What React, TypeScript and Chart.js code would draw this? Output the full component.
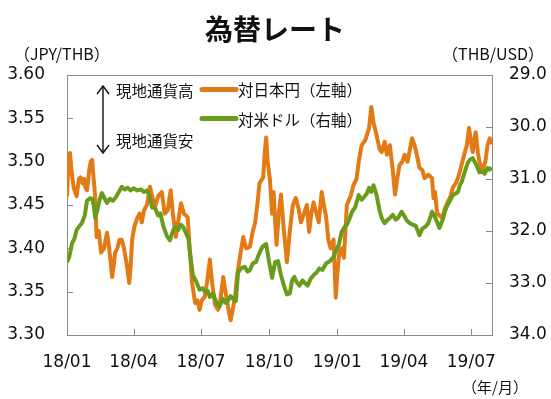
import React, { useEffect, useRef } from "react";
import { Chart, registerables } from "chart.js";

Chart.register(...registerables);

// ---- data ----
const xTickDays = [0, 90, 181, 273, 365, 455, 546];
const xTickLabels = ["18/01", "18/04", "18/07", "18/10", "19/01", "19/04", "19/07"];

// JPY/THB (left axis), day offset from 2018-01-01
const jpyDays = [0, 2, 4, 6, 9, 13, 16, 18, 21, 23, 25, 27, 30, 32, 34, 36, 38, 40, 43, 46, 50, 54, 57, 61, 63, 65, 68, 71, 74, 77, 81, 84, 86, 88, 91, 94, 98, 101, 104, 108, 112, 115, 119, 123, 128, 132, 136, 140, 143, 147, 150, 154, 158, 163, 166, 169, 173, 176, 179, 182, 186, 189, 193, 196, 200, 204, 207, 211, 215, 218, 221, 224, 227, 230, 233, 238, 242, 247, 251, 254, 257, 260, 265, 267, 269, 271, 274, 277, 279, 283, 286, 289, 293, 297, 301, 305, 309, 313, 316, 320, 324, 327, 330, 333, 337, 340, 344, 347, 350, 353, 356, 360, 363, 365, 368, 371, 374, 378, 383, 387, 391, 394, 398, 403, 408, 411, 414, 418, 422, 425, 429, 432, 436, 440, 443, 446, 449, 453, 456, 460, 466, 469, 472, 476, 480, 483, 488, 493, 495, 497, 500, 503, 507, 510, 514, 518, 521, 525, 528, 531, 534, 537, 540, 543, 546, 548, 550, 552, 555, 557, 561, 565, 568, 571, 573];
const jpyValues = [3.46, 3.50, 3.51, 3.49, 3.47, 3.46, 3.48, 3.482, 3.475, 3.48, 3.47, 3.467, 3.49, 3.50, 3.502, 3.48, 3.46, 3.413, 3.42, 3.395, 3.40, 3.418, 3.40, 3.367, 3.38, 3.395, 3.40, 3.41, 3.41, 3.40, 3.38, 3.36, 3.38, 3.41, 3.425, 3.433, 3.44, 3.43, 3.444, 3.45, 3.471, 3.46, 3.448, 3.46, 3.465, 3.44, 3.444, 3.467, 3.44, 3.413, 3.43, 3.452, 3.44, 3.436, 3.395, 3.36, 3.337, 3.34, 3.329, 3.34, 3.344, 3.36, 3.387, 3.36, 3.335, 3.329, 3.34, 3.367, 3.345, 3.33, 3.317, 3.33, 3.345, 3.37, 3.387, 3.413, 3.40, 3.402, 3.42, 3.429, 3.45, 3.475, 3.482, 3.51, 3.528, 3.50, 3.48, 3.44, 3.465, 3.404, 3.44, 3.462, 3.42, 3.384, 3.42, 3.45, 3.458, 3.445, 3.43, 3.44, 3.45, 3.419, 3.44, 3.453, 3.44, 3.43, 3.465, 3.45, 3.436, 3.41, 3.40, 3.41, 3.343, 3.37, 3.396, 3.40, 3.389, 3.45, 3.46, 3.473, 3.48, 3.50, 3.519, 3.525, 3.539, 3.563, 3.545, 3.531, 3.515, 3.511, 3.523, 3.508, 3.519, 3.49, 3.462, 3.48, 3.496, 3.50, 3.508, 3.50, 3.527, 3.52, 3.51, 3.493, 3.49, 3.481, 3.485, 3.481, 3.458, 3.465, 3.44, 3.438, 3.435, 3.445, 3.453, 3.46, 3.47, 3.475, 3.481, 3.49, 3.50, 3.51, 3.519, 3.539, 3.52, 3.511, 3.525, 3.534, 3.51, 3.50, 3.488, 3.50, 3.519, 3.527, 3.52];

// THB/USD (right axis, reversed)
const usdDays = [0, 3, 7, 10, 13, 17, 20, 24, 27, 31, 34, 36, 38, 41, 44, 47, 50, 54, 58, 62, 66, 70, 74, 78, 82, 86, 90, 95, 100, 104, 108, 111, 115, 119, 123, 126, 130, 135, 139, 143, 146, 150, 154, 157, 161, 164, 166, 170, 174, 179, 183, 187, 190, 193, 197, 202, 206, 210, 214, 217, 221, 224, 228, 231, 235, 240, 244, 247, 251, 255, 260, 264, 269, 273, 277, 281, 285, 289, 293, 297, 301, 304, 307, 310, 314, 318, 321, 325, 329, 333, 337, 341, 345, 350, 355, 360, 364, 367, 371, 375, 378, 382, 385, 389, 394, 398, 401, 405, 408, 411, 414, 418, 422, 425, 429, 432, 436, 440, 444, 447, 452, 456, 459, 463, 467, 471, 476, 480, 484, 488, 493, 496, 499, 503, 507, 511, 514, 518, 521, 525, 528, 531, 533, 537, 541, 544, 548, 551, 553, 557, 561, 564, 568, 571, 573];
const usdValues = [32.6, 32.5, 32.23, 32.15, 31.98, 31.9, 31.85, 31.7, 31.42, 31.37, 31.38, 31.5, 31.75, 31.6, 31.4, 31.27, 31.35, 31.46, 31.38, 31.42, 31.35, 31.25, 31.15, 31.2, 31.17, 31.22, 31.18, 31.22, 31.2, 31.25, 31.22, 31.3, 31.55, 31.56, 31.7, 31.66, 31.9, 32.1, 32.18, 32.0, 31.92, 31.98, 31.88, 31.92, 32.05, 32.15, 32.4, 32.85, 32.95, 33.13, 33.1, 33.18, 33.15, 33.27, 33.2, 33.38, 33.46, 33.3, 33.38, 33.35, 33.25, 33.3, 33.35, 32.8, 32.72, 32.69, 32.78, 32.75, 32.62, 32.6, 32.42, 32.3, 32.25, 32.6, 32.9, 32.6, 32.58, 32.85, 33.05, 33.22, 33.2, 32.95, 32.88, 32.98, 33.05, 32.95, 33.0, 33.05, 32.92, 32.85, 32.8, 32.72, 32.75, 32.62, 32.58, 32.5, 32.35, 32.27, 32.02, 31.92, 31.88, 31.75, 31.63, 31.55, 31.31, 31.4, 31.35, 31.28, 31.17, 31.25, 31.12, 31.3, 31.6, 31.75, 31.85, 31.8, 31.75, 31.69, 31.78, 31.75, 31.63, 31.72, 31.8, 31.85, 31.88, 31.9, 32.08, 31.95, 31.92, 31.85, 31.63, 31.7, 31.8, 31.94, 31.8, 31.6, 31.5, 31.4, 31.31, 31.28, 31.25, 31.1, 31.06, 30.87, 30.7, 30.63, 30.6, 30.68, 30.73, 30.87, 30.85, 30.9, 30.79, 30.82, 30.77];

const ORANGE = "#E27B16";
const GREEN = "#6A9C1C";
const AXIS = "#8a8a8a";
const LATIN = '"DejaVu Sans", "Noto Sans CJK JP", sans-serif';
const CJK = '"Noto Sans CJK JP", "DejaVu Sans", sans-serif';

const framePlugin = {
  id: "frame",
  beforeDatasetsDraw(chart: any) {
    const { ctx, chartArea: a, scales } = chart;
    ctx.save();
    ctx.strokeStyle = AXIS;
    ctx.lineWidth = 1;
    ctx.strokeRect(Math.round(a.left) + 0.5, Math.round(a.top) + 0.5, Math.round(a.right - a.left), Math.round(a.bottom - a.top));
    ctx.beginPath();
    const tl = 6;
    scales.x.ticks.forEach((t: any) => {
      const px = Math.round(scales.x.getPixelForValue(t.value)) + 0.5;
      ctx.moveTo(px, a.bottom);
      ctx.lineTo(px, a.bottom - tl);
    });
    scales.y.ticks.forEach((t: any) => {
      const py = Math.round(scales.y.getPixelForValue(t.value)) + 0.5;
      ctx.moveTo(a.left, py);
      ctx.lineTo(a.left + tl, py);
    });
    scales.y2.ticks.forEach((t: any) => {
      const py = Math.round(scales.y2.getPixelForValue(t.value)) + 0.5;
      ctx.moveTo(a.right, py);
      ctx.lineTo(a.right - tl, py);
    });
    ctx.stroke();
    ctx.restore();
  },
};

function Txt(props: { x: number; y: number; text: string; size: number; font: string; bold?: boolean; align?: "left" | "center" | "right" }) {
  const { x, y, text, size, font, bold, align = "left" } = props;
  const h = size * 1.5;
  const w = 300;
  const left = align === "left" ? x : align === "center" ? x - w / 2 : x - w;
  return (
    <div
      style={{
        position: "absolute",
        left,
        top: y - h / 2,
        width: w,
        height: h,
        lineHeight: `${h}px`,
        fontSize: size,
        fontFamily: font,
        fontWeight: bold ? 700 : 400,
        textAlign: align,
        color: "#111",
        whiteSpace: "nowrap",
        pointerEvents: "none",
      }}
    >
      {text}
    </div>
  );
}

export default function App() {
  const canvasRef = useRef<HTMLCanvasElement | null>(null);

  useEffect(() => {
    document.body.style.margin = "0";
    const canvas = canvasRef.current;
    if (!canvas) return;
    const chart = new Chart(canvas, {
      type: "line",
      data: {
        datasets: [
          {
            label: "対米ドル（右軸）",
            data: usdDays.map((d, i) => ({ x: d, y: usdValues[i] })),
            borderColor: GREEN,
            borderWidth: 4,
            pointRadius: 0,
            tension: 0,
            borderJoinStyle: "round",
            yAxisID: "y2",
          },
          {
            label: "対日本円（左軸）",
            data: jpyDays.map((d, i) => ({ x: d, y: jpyValues[i] })),
            borderColor: ORANGE,
            borderWidth: 4,
            pointRadius: 0,
            tension: 0,
            borderJoinStyle: "round",
            yAxisID: "y",
          },
        ],
      },
      options: {
        animation: false,
        responsive: false,
        devicePixelRatio: 1,
        layout: { padding: { top: 75, left: 0, right: 0, bottom: 0 } },
        plugins: { legend: { display: false }, tooltip: { enabled: false }, title: { display: false } },
        scales: {
          x: {
            type: "linear",
            min: 0,
            max: 574,
            grid: { display: false, drawTicks: false },
            border: { display: false },
            afterBuildTicks: (scale: any) => {
              scale.ticks = xTickDays.map((v) => ({ value: v }));
            },
            afterFit: (scale: any) => {
              scale.height = 399 - 335;
            },
            ticks: {
              autoSkip: false,
              maxRotation: 0,
              padding: 17,
              color: "#111",
              font: { family: LATIN, size: 17 },
              callback: (v: any) => {
                const i = xTickDays.indexOf(Number(v));
                return i >= 0 ? xTickLabels[i] : "";
              },
            },
          },
          y: {
            position: "left",
            min: 3.3,
            max: 3.6,
            grid: { display: false, drawTicks: false },
            border: { display: false },
            afterFit: (scale: any) => {
              scale.width = 67;
            },
            ticks: {
              stepSize: 0.05,
              padding: 22,
              color: "#111",
              font: { family: LATIN, size: 17 },
              callback: (v: any) => Number(v).toFixed(2),
            },
          },
          y2: {
            position: "right",
            min: 29,
            max: 34,
            reverse: true,
            grid: { display: false, drawTicks: false },
            border: { display: false },
            afterFit: (scale: any) => {
              scale.width = 551 - 492;
            },
            ticks: {
              stepSize: 1,
              padding: 17,
              color: "#111",
              font: { family: LATIN, size: 17 },
              callback: (v: any) => Number(v).toFixed(1),
            },
          },
        },
      },
      plugins: [framePlugin],
    } as any);
    return () => chart.destroy();
  }, []);

  return (
    <div style={{ position: "relative", width: 551, height: 399, background: "#fff", overflow: "hidden" }}>
      <canvas ref={canvasRef} width={551} height={399} style={{ position: "absolute", left: 0, top: 0, width: 551, height: 399 }} />
      <Txt x={275} y={28} text="為替レート" size={28} font={CJK} bold align="center" />
      <Txt x={14} y={53} text="（JPY/THB）" size={16} font={CJK} />
      <Txt x={544} y={53} text="（THB/USD）" size={16} font={CJK} align="right" />
      <Txt x={528} y={387} text="（年/月）" size={15} font={CJK} align="right" />
      <svg width={551} height={399} style={{ position: "absolute", left: 0, top: 0, pointerEvents: "none" }}>
        <line x1={103} y1={86} x2={103} y2={153} stroke="#111" strokeWidth={1.4} />
        <polyline points="97,94 103,86 109,94" fill="none" stroke="#111" strokeWidth={1.4} />
        <polyline points="97,145 103,153 109,145" fill="none" stroke="#111" strokeWidth={1.4} />
        <line x1={202} y1={89.5} x2={236} y2={89.5} stroke={ORANGE} strokeWidth={5} strokeLinecap="round" />
        <line x1={202} y1={118.5} x2={236} y2={118.5} stroke={GREEN} strokeWidth={5} strokeLinecap="round" />
      </svg>
      <Txt x={116} y={91} text="現地通貨高" size={15.5} font={CJK} />
      <Txt x={116} y={141} text="現地通貨安" size={15.5} font={CJK} />
      <Txt x={238} y={90} text="対日本円（左軸）" size={15.5} font={CJK} />
      <Txt x={238} y={120} text="対米ドル（右軸）" size={15.5} font={CJK} />
    </div>
  );
}
